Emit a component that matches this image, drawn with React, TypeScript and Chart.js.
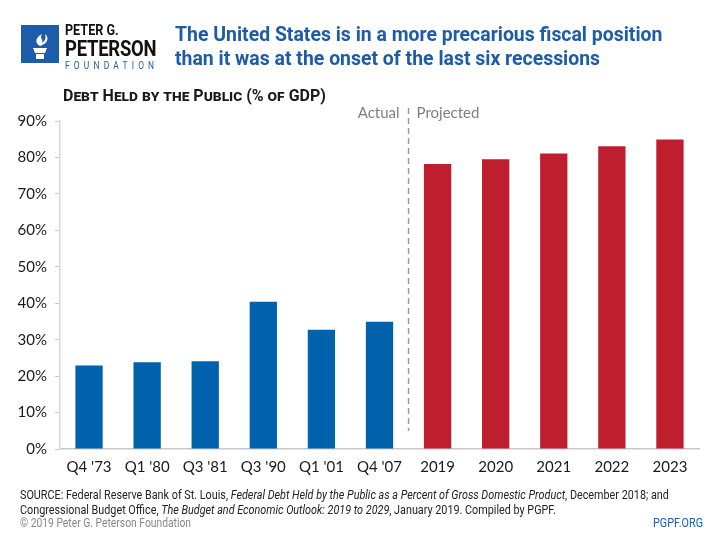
import React, { useEffect, useRef } from "react";
import { Chart, registerables } from "chart.js";

Chart.register(...registerables);

const categories = ["Q4 '73", "Q1 '80", "Q3 '81", "Q3 '90", "Q1 '01", "Q4 '07", "2019", "2020", "2021", "2022", "2023"];
const actualValues = [22.9, 23.8, 24.1, 40.4, 32.7, 34.9];
const projectedValues = [78.2, 79.5, 81.1, 83.1, 84.9];
const yTicks = [0, 10, 20, 30, 40, 50, 60, 70, 80, 90];

const BLUE = "#0061ad";
const RED = "#be1e2d";
const TICK_FONT = "Lato, 'Open Sans', sans-serif";

const dividerPlugin = {
  id: "divider",
  afterDraw(chart: any) {
    const xs = chart.scales.x;
    const ys = chart.scales.y;
    const ctx = chart.ctx;
    const x = (xs.getPixelForTick(actualValues.length - 1) + xs.getPixelForTick(actualValues.length)) / 2;
    ctx.save();
    ctx.strokeStyle = "#9a9a9a";
    ctx.lineWidth = 1.5;
    ctx.setLineDash([6, 4]);
    ctx.beginPath();
    ctx.moveTo(x, chart.chartArea.top - 13);
    ctx.lineTo(x, ys.getPixelForValue(5));
    ctx.stroke();
    ctx.setLineDash([]);
    ctx.fillStyle = "#7f7f7f";
    ctx.font = "15px " + TICK_FONT;
    ctx.textBaseline = "middle";
    ctx.textAlign = "right";
    ctx.fillText("Actual", x - 9, chart.chartArea.top - 8);
    ctx.textAlign = "left";
    ctx.fillText("Projected", x + 8, chart.chartArea.top - 8);
    ctx.restore();
  },
};

function ChartCanvas() {
  const ref = useRef<HTMLCanvasElement>(null);
  useEffect(() => {
    if (!ref.current) return;
    const values = [...actualValues, ...projectedValues];
    const colors = values.map((_, i) => (i < actualValues.length ? BLUE : RED));
    const chart = new Chart(ref.current, {
      type: "bar",
      data: {
        labels: categories,
        datasets: [
          {
            data: values,
            backgroundColor: colors,
            borderWidth: 0,
            barPercentage: 0.47,
            categoryPercentage: 1,
          },
        ],
      },
      options: {
        animation: false,
        responsive: false,
        maintainAspectRatio: false,
        layout: { padding: { top: 121, right: 21, left: 0, bottom: 0 } },
        plugins: { legend: { display: false }, tooltip: { enabled: false } },
        scales: {
          x: {
            grid: { display: false, drawTicks: false },
            border: { display: true, color: "#c8c8c8", width: 1.5 },
            ticks: { color: "#1a1a1a", font: { family: TICK_FONT, size: 15 }, padding: 9, maxRotation: 0 },
            afterFit: (s: any) => { s.height = 91; },
          },
          y: {
            min: 0,
            max: 90,
            afterBuildTicks: (s: any) => { s.ticks = yTicks.map((v) => ({ value: v })); },
            grid: { drawOnChartArea: false, drawTicks: true, tickLength: 5, color: "#c8c8c8" },
            border: { display: true, color: "#d8d8d8", width: 1.5 },
            ticks: {
              color: "#1a1a1a",
              font: { family: TICK_FONT, size: 15 },
              padding: 8,
              callback: (v: any) => v + "%",
            },
            afterFit: (s: any) => { s.width = 60; },
          },
        },
      },
      plugins: [dividerPlugin],
    });
    return () => chart.destroy();
  }, []);
  return <canvas ref={ref} width={720} height={540} style={{ position: "absolute", left: 0, top: 0, width: 720, height: 540 }} />;
}

const COND = "Roboto, 'Liberation Sans', sans-serif";

function Logo() {
  return (
    <div style={{ position: "absolute", left: 21, top: 25 }}>
      <svg width={38} height={38} style={{ position: "absolute", left: 0, top: 0 }}>
        <rect x={0} y={0} width={38} height={38} fill="#1d5ca8" />
        <path d="M12 23 h14 l-2 5 h-10 z" fill="#fff" />
        <rect x={15} y={29} width={8} height={5} fill="#fff" />
        <path d="M19 21 c-6 -3 -4 -9 2 -12 c-3 4 2 6 -0 9 c4 -3 4 -6 3 -9 c5 4 2 10 -5 12 z" fill="#fff" />
      </svg>
      <div style={{ position: "absolute", left: 44, top: -3, fontFamily: COND, fontWeight: 700, color: "#111", whiteSpace: "nowrap", transform: "scaleX(0.84)", transformOrigin: "left top" }}>
        <div style={{ fontSize: 15, lineHeight: "16px" }}>PETER G.</div>
        <div style={{ fontSize: 22, lineHeight: "22px", letterSpacing: -0.3 }}>PETERSON</div>
        <div style={{ fontSize: 10, lineHeight: "12px", letterSpacing: 5, color: "#1d5ca8", fontWeight: 400 }}>FOUNDATION</div>
      </div>
    </div>
  );
}

export default function App() {
  return (
    <div style={{ position: "fixed", left: 0, top: 0, width: 720, height: 540, background: "#fff", overflow: "hidden" }}>
      <ChartCanvas />
      <Logo />
      <div style={{ position: "absolute", left: 175, top: 22, fontFamily: COND, fontWeight: 700, fontSize: 21, lineHeight: "24px", color: "#1d5ca8", whiteSpace: "nowrap", transform: "scaleX(0.925)", transformOrigin: "left top" }}>
        <div>The United States is in a more precarious fiscal position</div>
        <div>than it was at the onset of the last six recessions</div>
      </div>
      <div style={{ position: "absolute", left: 63, top: 86, fontFamily: COND, fontWeight: 700, fontSize: 16, fontVariant: "small-caps", color: "#1a1a1a", whiteSpace: "nowrap" }}>
        Debt Held by the Public (% of GDP)
      </div>
      <div style={{ position: "absolute", left: 20, top: 488, fontFamily: COND, fontSize: 12, lineHeight: "15px", color: "#222", whiteSpace: "nowrap", transform: "scaleX(0.9)", transformOrigin: "left top" }}>
        <div>SOURCE: Federal Reserve Bank of St. Louis, <i>Federal Debt Held by the Public as a Percent of Gross Domestic Product</i>, December 2018; and</div>
        <div>Congressional Budget Office, <i>The Budget and Economic Outlook: 2019 to 2029</i>, January 2019. Compiled by PGPF.</div>
      </div>
      <div style={{ position: "absolute", left: 20, top: 516, fontFamily: COND, fontSize: 12, color: "#888", whiteSpace: "nowrap", transform: "scaleX(0.86)", transformOrigin: "left top" }}>
        © 2019 Peter G. Peterson Foundation
      </div>
      <div style={{ position: "absolute", left: 653, top: 516, fontFamily: COND, fontSize: 12, color: "#1d5ca8", whiteSpace: "nowrap", transform: "scaleX(0.9)", transformOrigin: "left top" }}>
        PGPF.ORG
      </div>
    </div>
  );
}
